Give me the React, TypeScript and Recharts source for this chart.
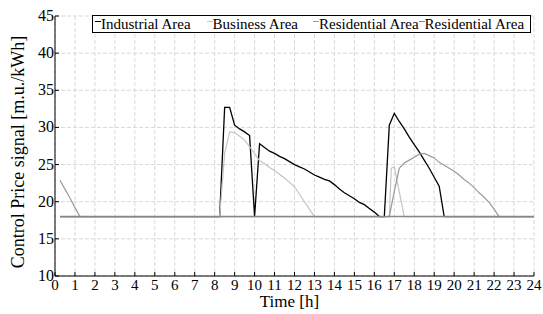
import React from 'react';
import { LineChart, Line, XAxis, YAxis, CartesianGrid } from 'recharts';

// hours of the day and price signal per area
const industrialTime = [0.25, 8.25, 8.5, 8.75, 9.0, 9.25, 9.5, 9.75, 10.0, 10.25, 10.5, 10.75, 11.0, 11.25, 11.5, 11.75, 12.0, 12.25, 12.5, 12.75, 13.0, 13.25, 13.5, 13.75, 14.0, 14.25, 14.5, 14.75, 15.0, 15.25, 15.5, 15.75, 16.0, 16.25, 16.5, 16.75, 17.0, 17.25, 17.5, 17.75, 18.0, 18.25, 18.5, 18.75, 19.0, 19.25, 19.5, 24];
const industrialPrice = [18, 18, 32.7, 32.7, 30.3, 29.8, 29.4, 28.9, 18, 27.8, 27.3, 26.8, 26.5, 26.1, 25.8, 25.4, 25.0, 24.7, 24.4, 24.0, 23.6, 23.3, 23.0, 22.8, 22.3, 21.7, 21.2, 20.8, 20.4, 19.9, 19.6, 19.1, 18.6, 18.0, 18.0, 30.3, 31.9, 30.8, 29.8, 28.7, 27.7, 26.7, 25.6, 24.5, 23.3, 22.1, 18, 18];

const businessTime = [0.25, 8.25, 8.5, 8.75, 9.0, 9.25, 9.5, 9.75, 10.0, 10.25, 10.5, 10.75, 11.0, 11.25, 11.5, 11.75, 12.0, 12.25, 12.5, 12.75, 13.0, 16.75, 16.85, 17.0, 17.5, 24];
const businessPrice = [18, 18, 26.5, 29.4, 29.3, 28.8, 28.3, 27.4, 26.5, 25.5, 25.1, 24.6, 24.2, 23.7, 23.2, 22.6, 22.0, 21.0, 20.0, 19.0, 18, 18, 24.5, 24.7, 18, 18];

const residentialTime = [0.25, 0.5, 0.75, 1.0, 1.25, 16.75, 17.0, 17.25, 17.5, 17.75, 18.0, 18.25, 18.5, 18.75, 19.0, 19.25, 19.5, 19.75, 20.0, 20.25, 20.5, 20.75, 21.0, 21.25, 21.5, 21.75, 22.0, 22.25, 24];
const residentialPrice = [22.9, 21.7, 20.5, 19.2, 18.0, 18, 21.4, 24.5, 25.2, 25.6, 26.0, 26.4, 26.5, 26.2, 25.9, 25.3, 24.9, 24.5, 24.1, 23.6, 23.0, 22.5, 21.9, 21.2, 20.6, 19.9, 19.0, 18, 18];

const baseTime = [0.25, 24];
const basePrice = [18, 18];

const hourTicks = [0, 1, 2, 3, 4, 5, 6, 7, 8, 9, 10, 11, 12, 13, 14, 15, 16, 17, 18, 19, 20, 21, 22, 23, 24];
const priceTicks = [10, 15, 20, 25, 30, 35, 40, 45];

const zip = (t: number[], p: number[]) => t.map((h, i) => ({ t: h, p: p[i] }));

const series = [
  { name: 'Industrial Area', data: zip(industrialTime, industrialPrice), color: '#000000', width: 1.3 },
  { name: 'Business Area', data: zip(businessTime, businessPrice), color: '#c4c4c4', width: 1.2 },
  { name: 'Residential Area', data: zip(residentialTime, residentialPrice), color: '#9a9a9a', width: 1.2 },
  { name: 'Residential Area', data: zip(baseTime, basePrice), color: '#888888', width: 1.4 },
];

const FONT = '"Liberation Serif", "Times New Roman", serif';

const XTick = ({ x, y, payload }: any) => (
  <g>
    <line x1={x} y1={y} x2={x} y2={y - 4} stroke="#000" />
    <text x={x} y={y + 14} textAnchor="middle" fontSize={15} fontFamily={FONT} fill="#000">
      {payload.value}
    </text>
  </g>
);

const YTick = ({ x, y, payload }: any) => (
  <g>
    <line x1={x} y1={y} x2={x + 4} y2={y} stroke="#000" />
    <text x={x - 1} y={y + 5} textAnchor="end" fontSize={16} fontFamily={FONT} fill="#000">
      {payload.value}
    </text>
  </g>
);

const legendGaps = [16, 15, 0, 0];

function ChartLegend() {
  return (
    <div
      style={{
        position: 'absolute',
        left: 92,
        top: 15,
        width: 439,
        display: 'flex',
        border: '1px solid #000',
        background: '#fff',
        height: 18,
        lineHeight: '16px',
        paddingLeft: 2,
        fontFamily: FONT,
        fontSize: 15,
        color: '#000',
        boxSizing: 'border-box',
        whiteSpace: 'nowrap',
      }}
    >
      {series.map((s, i) => (
        <div key={i} style={{ display: 'flex', alignItems: 'center', marginRight: legendGaps[i] }}>
          <span style={{ display: 'inline-block', width: 6, height: 0, borderTop: `1px solid ${s.color}`, marginTop: -5 }} />
          <span>{s.name}</span>
        </div>
      ))}
    </div>
  );
}

export default function App() {
  return (
    <div style={{ position: 'fixed', left: 0, top: 0, width: 543, height: 314, background: '#fff' }}>
      <LineChart width={543} height={314} margin={{ top: 16, right: 9, left: 0, bottom: 0 }}>
        <CartesianGrid stroke="#d8d8d8" strokeDasharray="4 2" />
        <XAxis
          type="number"
          dataKey="t"
          domain={[0, 24]}
          ticks={hourTicks}
          interval={0}
          height={38}
          tickSize={0}
          tickMargin={0}
          tick={<XTick />}
          axisLine={{ stroke: '#000' }}
          label={{
            content: ({ viewBox }: any) => (
              <text
                x={viewBox.x + viewBox.width / 2 - 5}
                y={viewBox.y + 31}
                textAnchor="middle"
                fontSize={17}
                fontFamily={FONT}
                fill="#000"
              >
                Time [h]
              </text>
            ),
          }}
        />
        <YAxis
          type="number"
          domain={[10, 45]}
          ticks={priceTicks}
          interval={0}
          width={55}
          tickSize={0}
          tickMargin={0}
          tick={<YTick />}
          axisLine={{ stroke: '#000' }}
          label={{
            content: ({ viewBox }: any) => {
              const cx = viewBox.x + 18;
              const cy = viewBox.y + viewBox.height / 2 + 6;
              return (
                <text
                  x={cx}
                  y={cy}
                  transform={`rotate(-90 ${cx} ${cy})`}
                  textAnchor="middle"
                  dominantBaseline="central"
                  fontSize={18}
                  fontFamily={FONT}
                  fill="#000"
                >
                  Control Price signal [m.u./kWh]
                </text>
              );
            },
          }}
        />
        {series.map((s, i) => (
          <Line
            key={i}
            data={s.data}
            dataKey="p"
            name={s.name}
            type="linear"
            stroke={s.color}
            strokeWidth={s.width}
            dot={false}
            activeDot={false}
            isAnimationActive={false}
          />
        ))}
      </LineChart>
      <ChartLegend />
    </div>
  );
}
